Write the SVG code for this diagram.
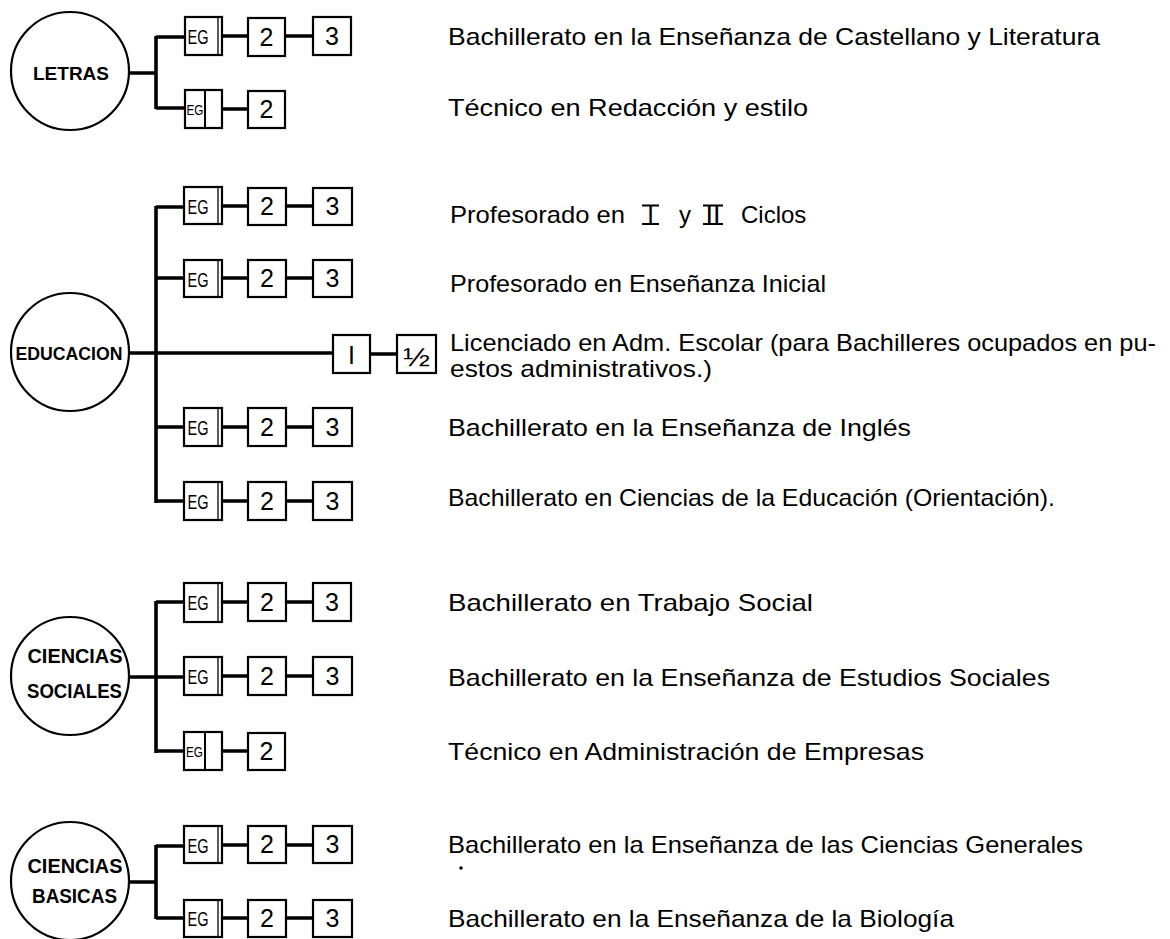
<svg xmlns="http://www.w3.org/2000/svg" width="1170" height="939" viewBox="0 0 1170 939">
<style>
.bg{fill:#fff}
.circ{fill:#fff;stroke:#000;stroke-width:2.2}
.box{fill:#fff;stroke:#000;stroke-width:2.2}
.thin{stroke:#000;stroke-width:1.3}
.split{stroke:#000;stroke-width:2}
.conn{fill:none;stroke:#000;stroke-width:3.6;stroke-linecap:butt}
.cl{font-family:"Liberation Sans",Arial,sans-serif;font-weight:bold;text-anchor:middle;fill:#000}
.eg{font-family:"Liberation Sans",Arial,sans-serif;font-size:21px;fill:#000}
.egs{font-family:"Liberation Sans",Arial,sans-serif;font-size:15px;fill:#000}
.num{font-family:"Liberation Sans",Arial,sans-serif;font-size:25px;text-anchor:middle;fill:#000}
.lbl{font-family:"Liberation Sans",Arial,sans-serif;font-size:24px;fill:#000}
.bar{stroke:#000;stroke-width:1.8}
</style>
<rect class="bg" x="0" y="0" width="1170" height="939"/>

<g id="connectors">
  <!-- LETRAS -->
  <path class="conn" d="M128,73 H156 M156,36 V109 M156,37 H185 M156,108 H185 M222,36 H248 M285,36 H313 M222,109 H248"/>
  <!-- EDUCACION -->
  <path class="conn" d="M129,353 H333 M156,206 V503 M156,207 H185 M156,278 H185 M156,427 H185 M156,501 H185
    M222,206 H248 M285,206 H313 M222,278 H248 M285,278 H313 M370,354 H397
    M222,427 H248 M285,427 H313 M222,501 H248 M285,501 H313"/>
  <!-- CIENCIAS SOCIALES -->
  <path class="conn" d="M129,677 H156 M156,601 V753 M156,602 H185 M156,677 H185 M156,751 H185
    M222,602 H248 M285,602 H313 M222,676 H248 M285,676 H313 M222,751 H248"/>
  <!-- CIENCIAS BASICAS -->
  <path class="conn" d="M129,882 H156 M156,845 V919 M156,846 H185 M156,918 H185
    M222,845 H248 M285,845 H313 M222,918 H248 M285,918 H313"/>
</g>

<!-- Circles -->
<g id="letras"><circle class="circ" cx="70" cy="71" r="59"/><text class="cl" x="71" y="80" font-size="19">LETRAS</text></g>
<g id="educacion"><circle class="circ" cx="70" cy="352" r="59"/><text class="cl" x="69" y="360" font-size="18" textLength="107" lengthAdjust="spacingAndGlyphs">EDUCACION</text></g>
<g id="sociales"><circle class="circ" cx="70" cy="676" r="59"/><text class="cl" x="75" y="663" font-size="20" textLength="95" lengthAdjust="spacingAndGlyphs">CIENCIAS</text><text class="cl" x="74.5" y="698" font-size="20" textLength="95" lengthAdjust="spacingAndGlyphs">SOCIALES</text></g>
<g id="basicas"><circle class="circ" cx="70" cy="881" r="59"/><text class="cl" x="75" y="873" font-size="20" textLength="95" lengthAdjust="spacingAndGlyphs">CIENCIAS</text><text class="cl" x="74.5" y="903" font-size="20" textLength="85" lengthAdjust="spacingAndGlyphs">BASICAS</text></g>

<!-- LETRAS row 1 -->
<g id="l1-eg"><rect class="box" x="185" y="17" width="37" height="38"/><line class="thin" x1="218" y1="17" x2="218" y2="55"/><text class="eg" x="187.5" y="44" textLength="21" lengthAdjust="spacingAndGlyphs">EG</text></g>
<g id="l1-2"><rect class="box" x="248" y="18" width="37" height="38"/><text class="num" x="266.5" y="46">2</text></g>
<g id="l1-3"><rect class="box" x="313" y="17" width="38" height="38"/><text class="num" x="332" y="45">3</text></g>
<!-- LETRAS row 2 -->
<g id="l2-eg"><rect class="box" x="185" y="90" width="37" height="38"/><line class="split" x1="205" y1="90" x2="205" y2="128"/><text class="egs" x="186.5" y="115" textLength="17" lengthAdjust="spacingAndGlyphs">EG</text></g>
<g id="l2-2"><rect class="box" x="248" y="91" width="37" height="37"/><text class="num" x="266.5" y="118">2</text></g>

<!-- EDUCACION row 1 -->
<g id="e1-eg"><rect class="box" x="184" y="187" width="38" height="37"/><line class="thin" x1="218" y1="187" x2="218" y2="224"/><text class="eg" x="187.5" y="214" textLength="21" lengthAdjust="spacingAndGlyphs">EG</text></g>
<g id="e1-2"><rect class="box" x="248" y="188" width="38" height="37"/><text class="num" x="267" y="215">2</text></g>
<g id="e1-3"><rect class="box" x="313" y="188" width="39" height="37"/><text class="num" x="332.5" y="215">3</text></g>
<!-- EDUCACION row 2 -->
<g id="e2-eg"><rect class="box" x="184" y="260" width="38" height="37"/><line class="thin" x1="218" y1="260" x2="218" y2="297"/><text class="eg" x="187.5" y="287" textLength="21" lengthAdjust="spacingAndGlyphs">EG</text></g>
<g id="e2-2"><rect class="box" x="248" y="260" width="38" height="37"/><text class="num" x="267" y="287">2</text></g>
<g id="e2-3"><rect class="box" x="313" y="260" width="39" height="37"/><text class="num" x="332.5" y="287">3</text></g>
<!-- EDUCACION row 3 -->
<g id="e3-1"><rect class="box" x="333" y="335" width="37" height="38"/><text class="num" x="351.5" y="364" font-size="32">I</text></g>
<g id="e3-half"><rect class="box" x="397" y="335" width="39" height="38"/><text class="num" x="416.5" y="366" font-size="36" textLength="27" lengthAdjust="spacingAndGlyphs">½</text></g>
<!-- EDUCACION row 4 -->
<g id="e4-eg"><rect class="box" x="184" y="408" width="38" height="38"/><line class="thin" x1="218" y1="408" x2="218" y2="446"/><text class="eg" x="187.5" y="435" textLength="21" lengthAdjust="spacingAndGlyphs">EG</text></g>
<g id="e4-2"><rect class="box" x="248" y="408" width="38" height="38"/><text class="num" x="267" y="436">2</text></g>
<g id="e4-3"><rect class="box" x="313" y="408" width="39" height="38"/><text class="num" x="332.5" y="436">3</text></g>
<!-- EDUCACION row 5 -->
<g id="e5-eg"><rect class="box" x="184" y="482" width="38" height="38"/><line class="thin" x1="218" y1="482" x2="218" y2="520"/><text class="eg" x="187.5" y="509" textLength="21" lengthAdjust="spacingAndGlyphs">EG</text></g>
<g id="e5-2"><rect class="box" x="248" y="482" width="38" height="38"/><text class="num" x="267" y="510">2</text></g>
<g id="e5-3"><rect class="box" x="313" y="482" width="39" height="38"/><text class="num" x="332.5" y="510">3</text></g>

<!-- SOCIALES row 1 -->
<g id="s1-eg"><rect class="box" x="184" y="583" width="38" height="39"/><line class="thin" x1="218" y1="583" x2="218" y2="622"/><text class="eg" x="187.5" y="610" textLength="21" lengthAdjust="spacingAndGlyphs">EG</text></g>
<g id="s1-2"><rect class="box" x="248" y="583" width="38" height="38"/><text class="num" x="267" y="611">2</text></g>
<g id="s1-3"><rect class="box" x="313" y="583" width="38" height="38"/><text class="num" x="332" y="611">3</text></g>
<!-- SOCIALES row 2 -->
<g id="s2-eg"><rect class="box" x="184" y="657" width="38" height="38"/><line class="thin" x1="218" y1="657" x2="218" y2="695"/><text class="eg" x="187.5" y="684" textLength="21" lengthAdjust="spacingAndGlyphs">EG</text></g>
<g id="s2-2"><rect class="box" x="248" y="657" width="38" height="38"/><text class="num" x="267" y="685">2</text></g>
<g id="s2-3"><rect class="box" x="313" y="657" width="39" height="38"/><text class="num" x="332.5" y="685">3</text></g>
<!-- SOCIALES row 3 -->
<g id="s3-eg"><rect class="box" x="184" y="732" width="38" height="38"/><line class="split" x1="205" y1="732" x2="205" y2="770"/><text class="egs" x="186" y="757" textLength="17" lengthAdjust="spacingAndGlyphs">EG</text></g>
<g id="s3-2"><rect class="box" x="248" y="733" width="37" height="37"/><text class="num" x="266.5" y="760">2</text></g>

<!-- BASICAS row 1 -->
<g id="b1-eg"><rect class="box" x="184" y="826" width="38" height="37"/><line class="thin" x1="218" y1="826" x2="218" y2="863"/><text class="eg" x="187.5" y="853" textLength="21" lengthAdjust="spacingAndGlyphs">EG</text></g>
<g id="b1-2"><rect class="box" x="248" y="826" width="38" height="37"/><text class="num" x="267" y="853">2</text></g>
<g id="b1-3"><rect class="box" x="313" y="826" width="39" height="37"/><text class="num" x="332.5" y="853">3</text></g>
<!-- BASICAS row 2 -->
<g id="b2-eg"><rect class="box" x="184" y="900" width="38" height="37"/><line class="thin" x1="218" y1="900" x2="218" y2="937"/><text class="eg" x="187.5" y="926" textLength="21" lengthAdjust="spacingAndGlyphs">EG</text></g>
<g id="b2-2"><rect class="box" x="248" y="900" width="38" height="37"/><text class="num" x="267" y="927">2</text></g>
<g id="b2-3"><rect class="box" x="313" y="900" width="39" height="37"/><text class="num" x="332.5" y="927">3</text></g>

<!-- Labels -->
<g id="labels">
  <text class="lbl" x="448" y="45" textLength="652" lengthAdjust="spacingAndGlyphs">Bachillerato en la Enseñanza de Castellano y Literatura</text>
  <text class="lbl" x="448" y="116" textLength="360" lengthAdjust="spacingAndGlyphs">Técnico en Redacción y estilo</text>

  <text class="lbl" x="450" y="223" textLength="175" lengthAdjust="spacingAndGlyphs">Profesorado en</text>
  <text class="lbl" x="650.5" y="223" text-anchor="middle">I</text>
  <text class="lbl" x="679" y="223">y</text>
  <text class="lbl" x="713" y="223" text-anchor="middle" textLength="15" lengthAdjust="spacingAndGlyphs">II</text>
  <text class="lbl" x="741" y="223">Ciclos</text>
  <path class="bar" d="M642,205.5 H659 M642,224 H659 M703,205.5 H723 M703,224 H723"/>

  <text class="lbl" x="450" y="292" textLength="376" lengthAdjust="spacingAndGlyphs">Profesorado en Enseñanza Inicial</text>
  <text class="lbl" x="450" y="351" textLength="706" lengthAdjust="spacingAndGlyphs">Licenciado en Adm. Escolar (para Bachilleres ocupados en pu-</text>
  <text class="lbl" x="450" y="377" textLength="262" lengthAdjust="spacingAndGlyphs">estos administrativos.)</text>
  <text class="lbl" x="448" y="436" textLength="463" lengthAdjust="spacingAndGlyphs">Bachillerato en la Enseñanza de Inglés</text>
  <text class="lbl" x="448" y="506" textLength="607" lengthAdjust="spacingAndGlyphs">Bachillerato en Ciencias de la Educación (Orientación).</text>

  <text class="lbl" x="448" y="611" textLength="365" lengthAdjust="spacingAndGlyphs">Bachillerato en Trabajo Social</text>
  <text class="lbl" x="448" y="686" textLength="602" lengthAdjust="spacingAndGlyphs">Bachillerato en la Enseñanza de Estudios Sociales</text>
  <text class="lbl" x="448" y="760" textLength="476" lengthAdjust="spacingAndGlyphs">Técnico en Administración de Empresas</text>

  <text class="lbl" x="448" y="853" textLength="635" lengthAdjust="spacingAndGlyphs">Bachillerato en la Enseñanza de las Ciencias Generales</text>
  <circle cx="461" cy="868" r="1.8" fill="#000"/>
  <text class="lbl" x="448" y="927" textLength="506" lengthAdjust="spacingAndGlyphs">Bachillerato en la Enseñanza de la Biología</text>
</g>
</svg>
